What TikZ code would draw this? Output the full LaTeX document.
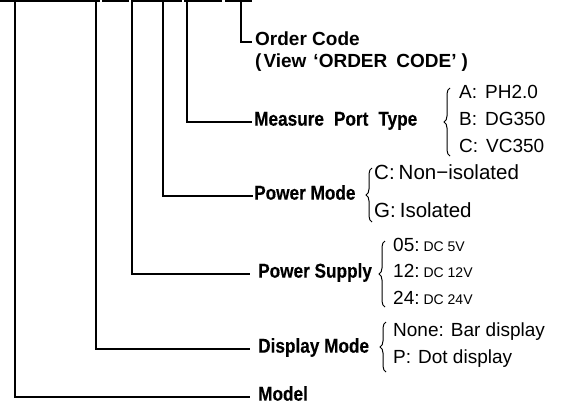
\documentclass[tikz,border=0pt]{standalone}
\usepackage{fontspec}
\setmainfont{Liberation Sans}
\newfontfamily\lblfont{Liberation Sans Bold}[FakeStretch=0.86,FakeBold=0.25]
\newfontfamily\widefont{Liberation Sans Bold}
\usetikzlibrary{decorations.pathreplacing}
\begin{document}
\begin{tikzpicture}[x=1pt,y=-1pt,
  conn/.style={line width=1.5pt},
  underl/.style={line width=1.6pt},
  lbl/.style={anchor=west,inner sep=0pt,text height=1.38ex,text depth=0pt,font=\lblfont\fontsize{20}{23}\selectfont},
  lblw/.style={lbl,font=\widefont\fontsize{19}{22}\selectfont},
  opt/.style={anchor=west,inner sep=0pt,text height=1.38ex,text depth=0pt,font=\fontsize{19}{22}\selectfont},
  optb/.style={opt,font=\fontsize{20.5}{23}\selectfont},
  brc/.style={decorate,decoration={brace,amplitude=6pt},line width=1pt}]
\useasboundingbox (0,0) rectangle (563,407);
% underlines of the code characters (cut at the top edge)
\foreach \a/\b in {0/14,16/95,97/100,102/129,131/162,164/182,184/222,225/252}
  \draw[underl] (\a,0.8) -- (\b,0.8);
% free ends of the connectors
\coordinate (c1) at (15,0);
\coordinate (c2) at (96,0);
\coordinate (c3) at (132,0);
\coordinate (c4) at (163,0);
\coordinate (c5) at (187,0);
\coordinate (c6) at (241,0);
% labels
\node[lblw] (oc) at (255,42) {Order Code};
\node[lblw] (ocv) at (255,64) {(\hspace{2pt}View\hspace{7pt}‘ORDER\hspace{9pt}CODE’\hspace{5pt})};
\node[lbl] (mpt) at (254,122) {Measure\hspace{10pt}Port\hspace{10pt}Type};
\node[lbl] (pm) at (254,196) {Power Mode};
\node[lbl] (ps) at (258,274) {Power Supply};
\node[lbl] (dm) at (258,349) {Display Mode};
\node[lbl] (md) at (258,397) {Model};
% connectors
\draw[conn] (c6) |- ([xshift=-3pt]oc.west);
\draw[conn] (c5) |- ([xshift=-2pt]mpt.west);
\draw[conn] (c4) |- ([xshift=-1pt]pm.west);
\draw[conn] (c3) |- ([xshift=-8pt]ps.west);
\draw[conn] (c2) |- ([xshift=-8pt]dm.west);
\draw[conn] (c1) |- ([xshift=-8pt]md.west);
% measure port type options
\node[opt] (mA) at (459,95) {A:\hspace{8pt}PH2.0};
\node[opt] (mB) at (459,122) {B:\hspace{8pt}DG350};
\node[opt] (mC) at (459,149) {C:\hspace{8pt}VC350};
\draw[brc] (450,156) -- (450,88);
% power mode options
\node[optb] (pC) at (374,176) {C:\hspace{4pt}Non−isolated};
\node[optb] (pG) at (374,214) {G:\hspace{4pt}Isolated};
\draw[brc] (372,222) -- (372,168);
% power supply options
\node[opt] (s05) at (393,248) {05:\hspace{4pt}{\fontsize{14}{16}\selectfont DC 5V}};
\node[opt] (s12) at (393,274) {12:\hspace{4pt}{\fontsize{14}{16}\selectfont DC 12V}};
\node[opt] (s24) at (393,301) {24:\hspace{4pt}{\fontsize{14}{16}\selectfont DC 24V}};
\draw[brc] (385,307) -- (385,241);
% display mode options
\node[opt] (dN) at (393,333) {None:\hspace{7pt}Bar display};
\node[opt] (dP) at (393,360) {P:\hspace{7pt}Dot display};
\draw[brc] (386,372) -- (386,322);
\end{tikzpicture}
\end{document}
